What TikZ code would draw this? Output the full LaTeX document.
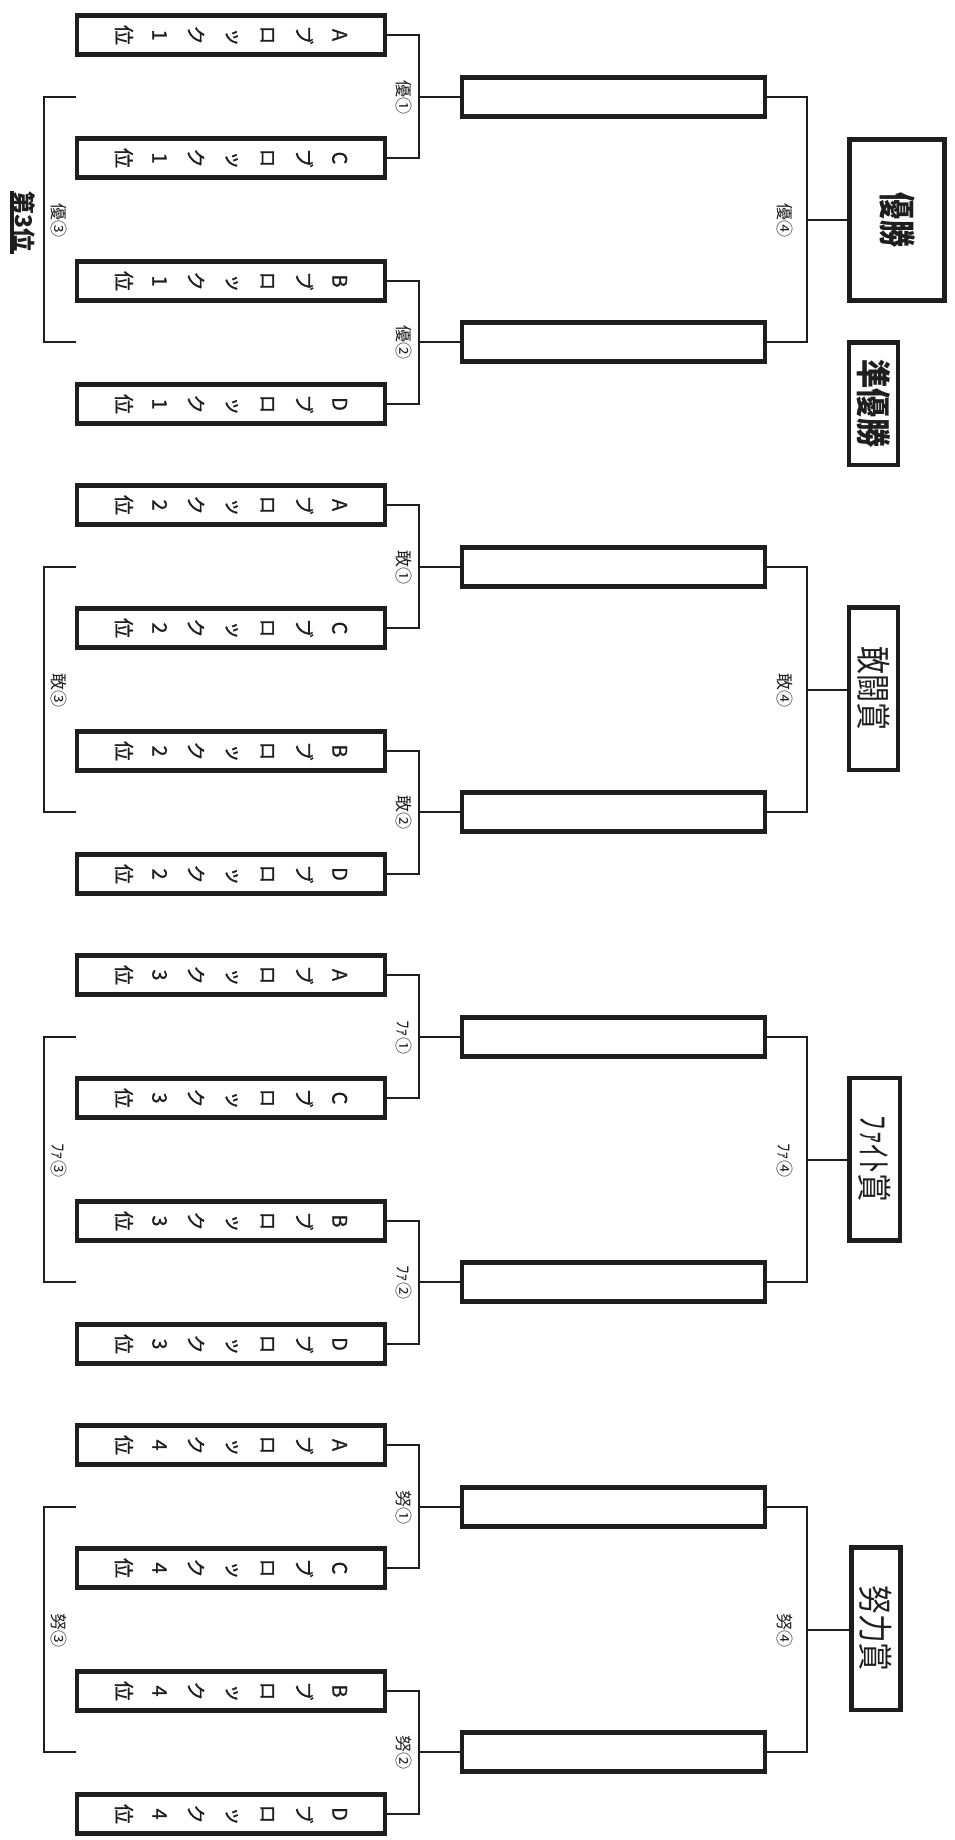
\documentclass[tikz,border=0pt]{standalone}
\usepackage{fontspec}
\usepackage{graphicx}
\newfontfamily\jp{Noto Sans CJK JP}
\newfontfamily\jpv[RawFeature=+vert,FakeBold=0.8]{Noto Sans CJK JP}
\definecolor{ink}{HTML}{1E1E1E}
\newcommand\vcol[1]{\vbox{\baselineskip=36pt\lineskiplimit=-100pt\halign{\hfil##\hfil\cr#1\crcr}}}
\tikzset{
  entry/.style={draw=ink, line width=4.5pt, minimum width=308pt, minimum height=39pt, inner sep=0pt},
  winner/.style={draw=ink, line width=4.5pt, minimum width=303pt, minimum height=39pt, inner sep=0pt},
  award/.style={draw=ink, line width=4.5pt, minimum width=49pt, minimum height=162.5pt, inner sep=0pt},
  wire/.style={draw=ink, line width=2pt},
  etext/.style={rotate=-90, inner sep=0pt, text=ink, font=\jpv\fontsize{20}{20}\selectfont},
  rlabel/.style={rotate=-90, inner sep=0pt, text=ink, font=\jp\fontsize{17}{17}\selectfont},
  atext/.style={rotate=-90, inner sep=0pt, text=ink, font=\jp},
}
\begin{document}
\begin{tikzpicture}[x=1pt,y=-1pt]
\useasboundingbox (0,0) rectangle (954,1840);
\fill[white] (0,0) rectangle (954,1840);
% award boxes
\node[award, minimum width=95pt, minimum height=161pt, line width=5pt] (Aw1) at (897,220) {};
\node[atext] (Aw1t) at (Aw1.center) {\bfseries\fontsize{37}{37}\selectfont\scalebox{0.73}[1]{優勝}};
\node[award, minimum height=122.5pt] (Ru) at (873.5,403.5) {};
\node[atext] (Rut) at (Ru.center) {\bfseries\fontsize{35}{35}\selectfont\scalebox{0.83}[1]{準優勝}};
\node[award] (Aw2) at (873.5,688.5) {};
\node[atext] (Aw2t) at (Aw2.center) {\fontsize{35}{35}\selectfont\scalebox{0.8}[1]{敢闘賞}};
\node[award, minimum width=50.5pt] (Aw3) at (874.5,1159) {};
\node[atext] (Aw3t) at (Aw3.center) {\fontsize{35}{35}\selectfont\scalebox{0.82}[1]{ﾌｧｲﾄ賞}};
\node[award] (Aw4) at (876,1628.5) {};
\node[atext] (Aw4t) at (Aw4.center) {\fontsize{35}{35}\selectfont\scalebox{0.82}[1]{努力賞}};
% third place title
\node[atext, inner sep=1pt] (third) at (24,221) {\bfseries\fontsize{23}{23}\selectfont 第3位};
\draw[ink, line width=3.5pt] ([yshift=-1.5pt]third.south west) -- ([yshift=-1.5pt]third.south east);
% brackets
\foreach \g/\p in {0/優,1/敢,2/ﾌｧ,3/努} {
  \pgfmathtruncatemacro\n{\g+1}
  \pgfmathsetmacro\o{470*\g}
  \foreach \l/\yy in {A/35,C/158,B/281,D/404} {
    \node[entry] (\l\n) at (231,\yy+\o) {};
    \node[etext] (t\l\n) at (\l\n.center) {\vcol{\l\cr ブ\cr ロ\cr ッ\cr ク\cr \n\cr 位}};
  }
  \node[winner] (Wa\n) at (613.5,97+\o) {};
  \node[winner] (Wb\n) at (613.5,342+\o) {};
  % round 1
  \draw[wire] (A\n.east) -- ++(32,0) |- (C\n.east);
  \draw[wire] (B\n.east) -- ++(32,0) |- (D\n.east);
  \coordinate (Ja\n) at (419,97+\o);
  \coordinate (Jb\n) at (419,342+\o);
  \draw[wire] (Ja\n) -- (Wa\n.west);
  \draw[wire] (Jb\n) -- (Wb\n.west);
  % round 2
  \draw[wire] (Wa\n.east) -- ++(40,0) |- (Wb\n.east);
  \coordinate (Jc\n) at (807,219.5+\o);
  \draw[wire] (Jc\n) -- (Jc\n -| Aw\n.west);
  % third place
  \coordinate (Ta\n) at (76,97+\o);
  \coordinate (Tb\n) at (76,342+\o);
  \draw[wire] (Ta\n) -- ++(-32,0) |- (Tb\n);
  % labels
  \node[rlabel] (La\n) at (404,97+\o) {\p①};
  \node[rlabel] (Lb\n) at (404,342+\o) {\p②};
  \node[rlabel] (Lc\n) at (59,220+\o) {\p③};
  \node[rlabel] (Ld\n) at (785,220+\o) {\p④};
}
\end{tikzpicture}
\end{document}
